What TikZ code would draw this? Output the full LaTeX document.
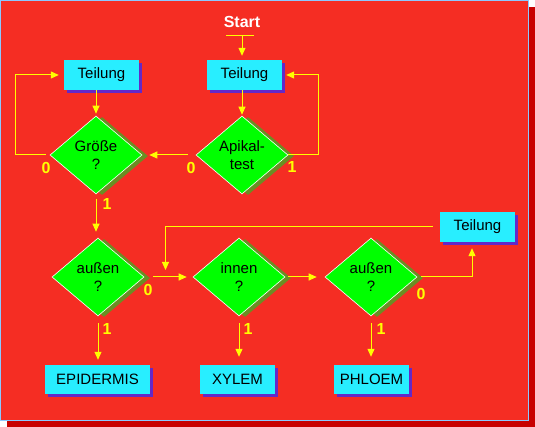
\documentclass[tikz,border=0pt]{standalone}
\usepackage{fontspec}
\setmainfont{Liberation Sans}
\usetikzlibrary{shapes.geometric,arrows.meta,shadows,calc}
\definecolor{bgred}{RGB}{245,45,35}
\definecolor{darkred}{RGB}{200,0,0}
\definecolor{frameblue}{RGB}{140,200,255}
\definecolor{boxcyan}{RGB}{40,238,255}
\definecolor{boxshadow}{RGB}{100,40,200}
\definecolor{dgreen}{RGB}{0,255,0}
\definecolor{dolive}{RGB}{107,142,35}
\definecolor{lineyellow}{RGB}{255,255,0}
\begin{document}
\begin{tikzpicture}[x=1pt,y=-1pt,
 box/.style={rectangle, fill=boxcyan, minimum width=75pt, minimum height=30pt, inner sep=0pt,
   font=\fontsize{15}{17}\selectfont, text=black,
   drop shadow={shadow xshift=3pt, shadow yshift=-3pt, fill=boxshadow, draw=none, opacity=1}},
 dec/.style={diamond, fill=dgreen, draw=white, line width=0.6pt, minimum width=92pt, minimum height=78pt,
   inner sep=0pt, aspect=1.18, align=center, font=\fontsize{15}{18}\selectfont,
   drop shadow={shadow xshift=6pt, shadow yshift=-1pt, fill=dolive, draw=none, opacity=1}},
 yline/.style={draw=lineyellow, line width=1pt},
 conn/.style={yline, -{Triangle[length=8pt,width=7pt]}},
 lab/.style={text=lineyellow, font=\fontsize{16}{18}\selectfont\bfseries, inner sep=0pt},
]
\useasboundingbox (0,0) rectangle (535,427);
\fill[white] (0,0) rectangle (535,427);
\fill[darkred] (7,7) rectangle (535,427);
\filldraw[fill=bgred, draw=frameblue, line width=1pt] (0.5,0.5) rectangle (528,420);

% nodes
\node[text=white, font=\fontsize{16}{18}\selectfont\bfseries] (start) at (242,22) {Start};
\node[box] (t1) at (101.5,75) {Teilung};
\node[box] (t2) at (244.5,75) {Teilung};
\node[box] (t3) at (477.5,227) {Teilung};
\node[box, minimum width=105pt, minimum height=29pt] (epi) at (97.5,379.5) {EPIDERMIS};
\node[box, minimum height=29pt] (xyl) at (237.5,379.5) {XYLEM};
\node[box, minimum height=29pt] (phl) at (371.5,379.5) {PHLOEM};
\node[dec] (gr) at (96,155) {Größe\\?};
\node[dec] (api) at (242,155) {Apikal-\\test};
\node[dec] (a1) at (98,277) {außen\\?};
\node[dec] (inn) at (239,277) {innen\\?};
\node[dec] (a2) at (371,277) {außen\\?};

% start connector
\coordinate (sl) at (226,36);
\coordinate (sr) at (254,36);
\coordinate (sm) at (242,36);
\draw[yline] (sl) -- (sr);
\draw[conn, shorten >=4pt] (sm) -- (sm |- t2.north);

% upper part
\draw[conn, shorten >=1pt] (api.north |- t2.south) -- (api.north);
\draw[conn, shorten >=2pt] (gr.north |- t1.south) -- (gr.north);
\draw[conn, shorten <=4pt, shorten >=5pt] (gr.west) -- ++(-34,0) |- (t1.west);
\draw[conn, shorten <=8pt] (api.west) -- ([xshift=7pt]gr.east);
\draw[conn] (api.east) -- ++(30,0) |- ([xshift=4pt]t2.east);
\draw[conn, shorten <=5pt, shorten >=6pt] (gr.south) -- (gr.south |- a1.north);

% lower row
\draw[conn, shorten <=9pt, shorten >=6pt] (a1.east) -- (inn.west);
\draw[conn, shorten <=3pt, shorten >=8pt] (inn.east) -- (a2.west);
\draw[conn, shorten <=4pt] (a2.east) -| ($(t3.south)+(-5.5,6)$);
\coordinate (j) at (165.5,270);
\draw[conn, shorten <=7pt] (t3.west) -| (j);

% to outputs
\draw[conn, shorten <=7pt, shorten >=5pt] (a1.south) -- (a1.south |- epi.north);
\draw[conn, shorten <=7pt, shorten >=8pt] (inn.south) -- (inn.south |- xyl.north);
\draw[conn, shorten <=7pt, shorten >=8pt] (a2.south) -- (a2.south |- phl.north);

% labels
\node[lab] (l1) at (46,168) {0};
\node[lab] (l2) at (191,168) {0};
\node[lab] (l3) at (292,167) {1};
\node[lab] (l4) at (107,204) {1};
\node[lab] (l5) at (148,290) {0};
\node[lab] (l6) at (421,294) {0};
\node[lab] (l7) at (107,329) {1};
\node[lab] (l8) at (248,329) {1};
\node[lab] (l9) at (381,329) {1};
\end{tikzpicture}
\end{document}
